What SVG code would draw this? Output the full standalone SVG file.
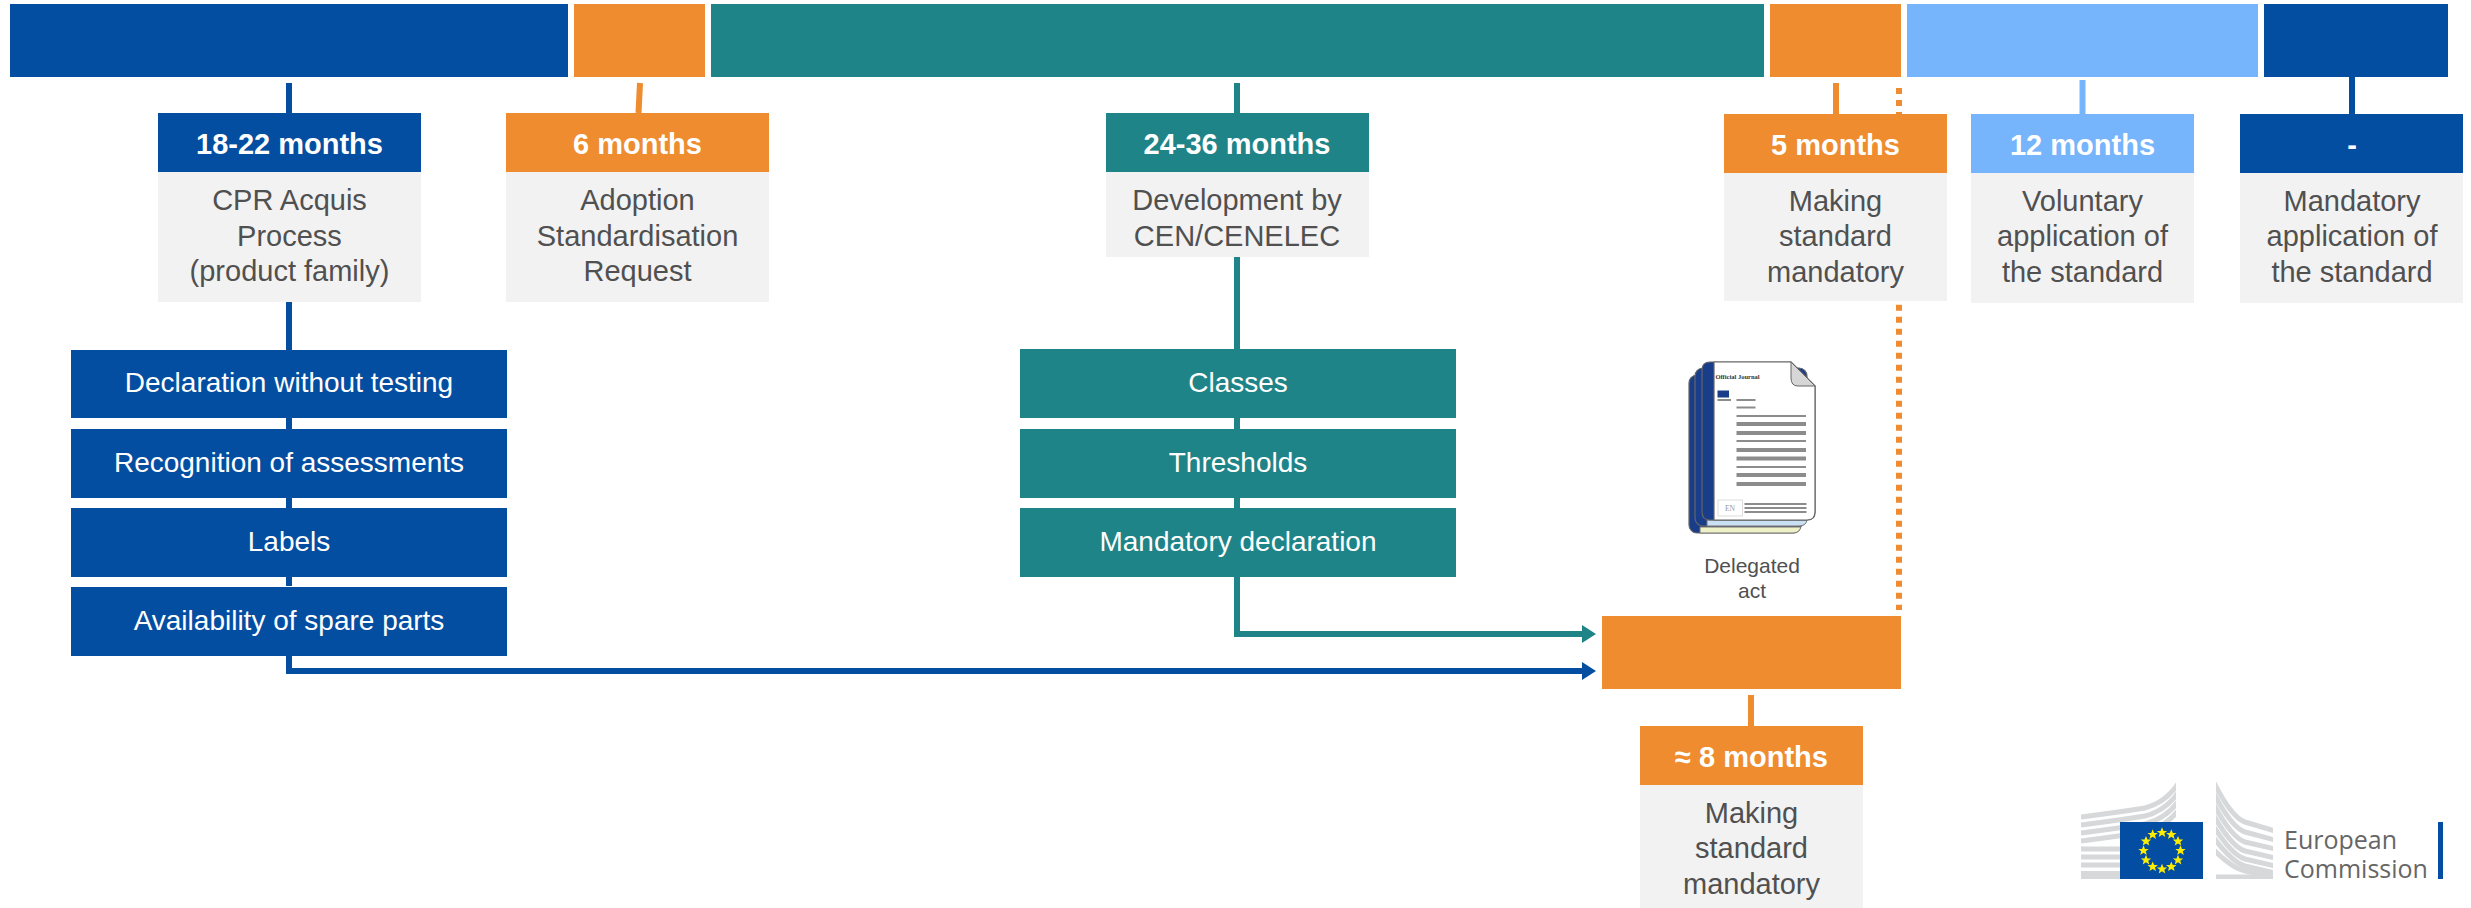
<svg xmlns="http://www.w3.org/2000/svg" width="2471" height="908" viewBox="0 0 2471 908">
<style>
text{font-family:"Liberation Sans",Arial,sans-serif;text-anchor:middle}
.navy{fill:#044ea1}.orange{fill:#ee8c2f}.teal{fill:#1f8488}.sky{fill:#76b4fb}.gray{fill:#f2f2f2}
.h{font-size:29px;font-weight:700;fill:#fff}
.b{font-size:29px;fill:#505050}
.l{font-size:28px;fill:#fff}
.d{font-size:21px;fill:#505050}
.c{fill:none;stroke-width:6}
.sn{stroke:#044ea1}.so{stroke:#ee8c2f}.st{stroke:#1f8488}.ss{stroke:#76b4fb}
.dot{stroke-dasharray:6 6}
.ln{fill:#8c8c8c}
.strip{fill:none;stroke:#d6d8d9;stroke-width:5}
.star{fill:#ffed00}
.ec{font-family:"Open Sans",sans-serif;font-size:25px;fill:#666;text-anchor:start}
</style>
<defs>
<marker id="at" markerUnits="userSpaceOnUse" markerWidth="14" markerHeight="18" refX="8" refY="9" orient="auto"><path d="M0 0L14 9L0 18Z" fill="#1f8488"/></marker>
<marker id="an" markerUnits="userSpaceOnUse" markerWidth="14" markerHeight="18" refX="8" refY="9" orient="auto"><path d="M0 0L14 9L0 18Z" fill="#044ea1"/></marker>
<path id="s" d="M0-5.2L1.5-1.6L5.2-1.6L2.3.7L3.3 4.4L0 2.3L-3.3 4.4L-2.3.7L-5.2-1.6L-1.5-1.6Z"/>
<clipPath id="cl"><rect x="2081" y="780" width="95" height="99"/></clipPath>
<clipPath id="cr"><rect x="2216" y="780" width="57" height="99"/></clipPath>
</defs>

<g id="connectors">
<path class="c sn" d="M289 83V113M289 302V586"/>
<path class="c so" d="M640 83L638.500 113"/>
<path class="c st" d="M1237 83V113M1237 257V577"/>
<path class="c so" d="M1836 83V114"/>
<path class="c so dot" d="M1899 88V114M1899 304.700V610"/>
<path class="c ss" d="M2082.500 80V114"/>
<path class="c sn" d="M2352 77V114"/>
<path class="c so" d="M1751 695V726"/>
<path class="c st" d="M1237 577V634H1590" marker-end="url(#at)"/>
<path class="c sn" d="M289 656V671H1590" marker-end="url(#an)"/>
</g>

<g id="phase-bars">
<rect id="bar-1" class="navy" x="10" y="4" width="558" height="73"/>
<rect id="bar-2" class="orange" x="574" y="4" width="131" height="73"/>
<rect id="bar-3" class="teal" x="711" y="4" width="1053" height="73"/>
<rect id="bar-4" class="orange" x="1770" y="4" width="131" height="73"/>
<rect id="bar-5" class="sky" x="1907" y="4" width="351" height="73"/>
<rect id="bar-6" class="navy" x="2264" y="4" width="184" height="73"/>
<rect id="bar-7" class="orange" x="1602" y="616" width="299" height="73"/>
</g>

<g id="node-cpr">
<rect class="navy" x="158" y="113" width="263" height="59"/>
<rect class="gray" x="158" y="172" width="263" height="130"/>
<text class="h" x="289.500" y="153.500">18-22 months</text>
<text class="b" x="289.500" y="210">CPR Acquis</text>
<text class="b" x="289.500" y="246">Process</text>
<text class="b" x="289.500" y="281">(product family)</text>
</g>
<g id="node-adoption">
<rect class="orange" x="506" y="113" width="263" height="59"/>
<rect class="gray" x="506" y="172" width="263" height="130"/>
<text class="h" x="637.500" y="153.500">6 months</text>
<text class="b" x="637.500" y="210">Adoption</text>
<text class="b" x="637.500" y="246">Standardisation</text>
<text class="b" x="637.500" y="281">Request</text>
</g>
<g id="node-development">
<rect class="teal" x="1106" y="113" width="263" height="59"/>
<rect class="gray" x="1106" y="172" width="263" height="85"/>
<text class="h" x="1237" y="153.500">24-36 months</text>
<text class="b" x="1237" y="210">Development by</text>
<text class="b" x="1237" y="246">CEN/CENELEC</text>
</g>
<g id="node-making">
<rect class="orange" x="1724" y="114" width="223" height="59"/>
<rect class="gray" x="1724" y="173" width="223" height="128"/>
<text class="h" x="1835.500" y="155">5 months</text>
<text class="b" x="1835.500" y="211">Making</text>
<text class="b" x="1835.500" y="246">standard</text>
<text class="b" x="1835.500" y="282">mandatory</text>
</g>
<g id="node-voluntary">
<rect class="sky" x="1971" y="114" width="223" height="59"/>
<rect class="gray" x="1971" y="173" width="223" height="130"/>
<text class="h" x="2082.500" y="155">12 months</text>
<text class="b" x="2082.500" y="211">Voluntary</text>
<text class="b" x="2082.500" y="246">application of</text>
<text class="b" x="2082.500" y="282">the standard</text>
</g>
<g id="node-mandatory">
<rect class="navy" x="2240" y="114" width="223" height="59"/>
<rect class="gray" x="2240" y="173" width="223" height="130"/>
<text class="h" x="2352" y="155">-</text>
<text class="b" x="2352" y="211">Mandatory</text>
<text class="b" x="2352" y="246">application of</text>
<text class="b" x="2352" y="282">the standard</text>
</g>
<g id="node-8-months">
<rect class="orange" x="1640" y="726" width="223" height="59"/>
<rect class="gray" x="1640" y="785" width="223" height="123"/>
<text class="h" x="1751.500" y="767">≈ 8 months</text>
<text class="b" x="1751.500" y="823">Making</text>
<text class="b" x="1751.500" y="858">standard</text>
<text class="b" x="1751.500" y="894">mandatory</text>
</g>

<g id="node-declaration"><rect class="navy" x="71" y="350" width="436" height="68"/><text class="l" x="289" y="392">Declaration without testing</text></g>
<g id="node-recognition"><rect class="navy" x="71" y="429" width="436" height="69"/><text class="l" x="289" y="472">Recognition of assessments</text></g>
<g id="node-labels"><rect class="navy" x="71" y="508" width="436" height="69"/><text class="l" x="289" y="551">Labels</text></g>
<g id="node-spare"><rect class="navy" x="71" y="587" width="436" height="69"/><text class="l" x="289" y="630">Availability of spare parts</text></g>
<g id="node-classes"><rect class="teal" x="1020" y="349" width="436" height="69"/><text class="l" x="1238" y="392">Classes</text></g>
<g id="node-thresholds"><rect class="teal" x="1020" y="429" width="436" height="69"/><text class="l" x="1238" y="472">Thresholds</text></g>
<g id="node-mandatory-declaration"><rect class="teal" x="1020" y="508" width="436" height="69"/><text class="l" x="1238" y="551">Mandatory declaration</text></g>

<g id="node-delegated-act">
<rect x="1689" y="375" width="112" height="158" rx="8" fill="#1a3d8a" stroke="#666" stroke-width="1.200"/>
<path d="M1700 527H1801V526Q1800 533 1793 533H1700Z" fill="#eef0c8" stroke="#777" stroke-width="1"/>
<rect x="1695" y="368" width="112" height="158" rx="8" fill="#1a3d8a" stroke="#666" stroke-width="1.200"/>
<path d="M1707 520H1807Q1806 526 1799 526H1707Z" fill="#c9dff3" stroke="#777" stroke-width="1"/>
<path d="M1710 362H1791L1815 386V512Q1815 520 1807 520H1710Q1702 520 1702 512V370Q1702 362 1710 362Z" fill="#1a3d8a" stroke="#666" stroke-width="1.200"/>
<path d="M1714 362H1791L1815 386V512Q1815 520 1807 520H1714Z" fill="#fff" stroke="#666" stroke-width="1.200"/>
<path d="M1791 362L1815 386H1798Q1791 386 1791 378Z" fill="#d6d6d6" stroke="#666" stroke-width="1"/>
<text x="1737.500" y="379" font-size="6.500" font-weight="700" fill="#333" style="font-family:'Liberation Serif',serif">Official Journal</text>
<rect x="1717.500" y="390.500" width="11.500" height="7" fill="#1a3d8a"/>
<rect class="ln" x="1717.500" y="399" width="13.500" height="2"/>
<rect class="ln" x="1736.500" y="399" width="19" height="2"/>
<rect class="ln" x="1736.500" y="406.500" width="19" height="2"/>
<rect class="ln" x="1736.500" y="415" width="69.500" height="2"/>
<rect class="ln" x="1736.500" y="422" width="69.500" height="4"/>
<rect class="ln" x="1736.500" y="431" width="69.500" height="4"/>
<rect class="ln" x="1736.500" y="440" width="69.500" height="2"/>
<rect class="ln" x="1736.500" y="448" width="69.500" height="4"/>
<rect class="ln" x="1736.500" y="456.500" width="69.500" height="4"/>
<rect class="ln" x="1736.500" y="466" width="69.500" height="2"/>
<rect class="ln" x="1736.500" y="473" width="69.500" height="4"/>
<rect class="ln" x="1736.500" y="482" width="69.500" height="4"/>
<rect x="1718" y="500" width="24.500" height="16" fill="#fff" stroke="#ddd" stroke-width="1"/>
<text x="1730" y="511" font-size="7.500" fill="#999" style="font-family:'Liberation Serif',serif">EN</text>
<rect class="ln" x="1744.500" y="503" width="62" height="2"/>
<rect class="ln" x="1744.500" y="507" width="62" height="2"/>
<rect class="ln" x="1744.500" y="511" width="62" height="2"/>
<text class="d" x="1752" y="573">Delegated</text>
<text class="d" x="1752" y="598">act</text>
</g>

<g id="logo">
<g clip-path="url(#cl)">
<path class="strip" d="M2081 817Q2120 812 2145 808Q2165 803 2178 784"/>
<path class="strip" d="M2081 825Q2120 820 2145 816Q2165 811 2178 793"/>
<path class="strip" d="M2081 833Q2120 828 2145 824Q2165 819 2178 802"/>
<path class="strip" d="M2081 841Q2120 836 2145 832Q2165 827 2178 811"/>
<path class="strip" d="M2081 849H2178M2081 857H2178M2081 865H2178M2081 873.500H2178"/>
<path class="strip" d="M2081 877H2178"/>
</g>
<g clip-path="url(#cr)">
<path class="strip" d="M2214 783Q2232 818 2245 822L2275 831"/>
<path class="strip" d="M2214 794Q2232 828 2245 832L2275 840"/>
<path class="strip" d="M2214 805Q2232 838 2245 842L2275 849"/>
<path class="strip" d="M2214 816Q2232 847 2245 851L2275 858"/>
<path class="strip" d="M2214 827Q2232 855 2245 859L2275 866"/>
<path class="strip" d="M2214 838Q2232 862 2245 866L2275 873"/>
<path class="strip" d="M2214 850Q2232 868 2245 871L2275 877"/>
<path class="strip" d="M2214 877H2275"/>
</g>
<rect x="2120" y="822" width="83" height="57" fill="#034ea2"/>
<g class="star">
<use href="#s" x="2162" y="832.500"/><use href="#s" x="2171.300" y="834.500"/><use href="#s" x="2178" y="841.200"/><use href="#s" x="2180.500" y="850.500"/><use href="#s" x="2178" y="860"/><use href="#s" x="2171.300" y="866.700"/><use href="#s" x="2162" y="869"/><use href="#s" x="2152.700" y="866.700"/><use href="#s" x="2146" y="860"/><use href="#s" x="2143.500" y="850.500"/><use href="#s" x="2146" y="841.200"/><use href="#s" x="2152.700" y="834.500"/>
</g>
<text class="ec" x="2284" y="849">European</text>
<text class="ec" x="2284" y="878">Commission</text>
<rect x="2438" y="822" width="5" height="57" fill="#034ea2"/>
</g>
</svg>
